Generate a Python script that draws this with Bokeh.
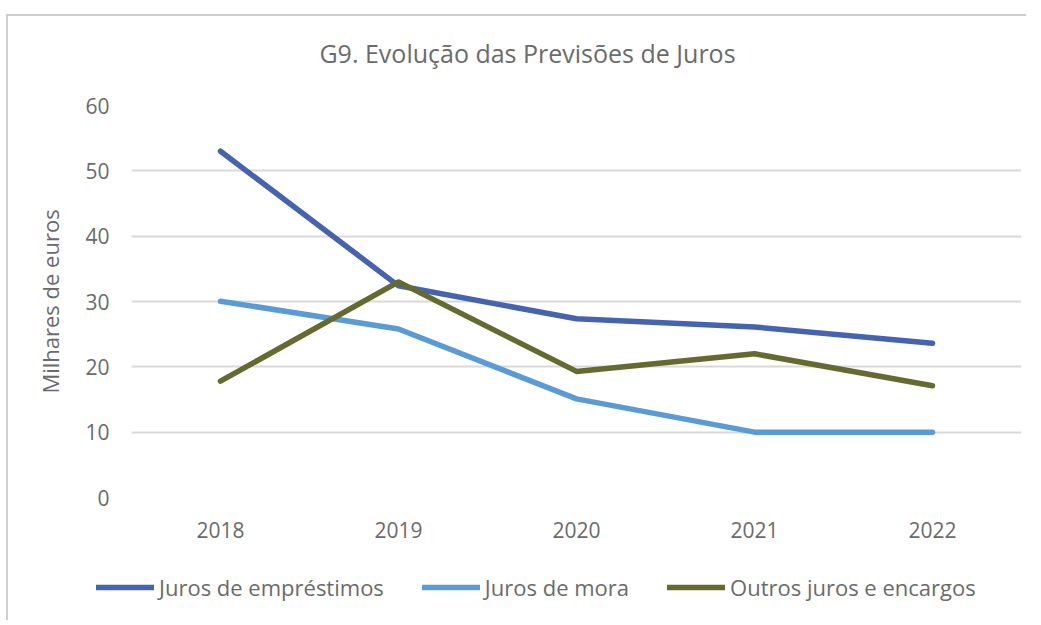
from bokeh.plotting import figure
from bokeh.models import FactorRange, Range1d, Legend, LegendItem, ColumnDataSource, Label
from bokeh.embed import file_html
from bokeh.resources import INLINE

years = ["2018", "2019", "2020", "2021", "2022"]
juros_emprestimos = [53.0, 32.4, 27.35, 26.1, 23.6]
juros_mora = [30.05, 25.8, 15.1, 10.0, 10.0]
outros_juros = [17.8, 33.0, 19.3, 22.0, 17.1]
y_ticks = [0, 10, 20, 30, 40, 50, 60]

title_text = "G9. Evolução das Previsões de Juros"
series_names = ["Juros de empréstimos", "Juros de mora", "Outros juros e encargos"]
series_colors = ["#4663AF", "#5B9BD5", "#646A30"]

FONT = "Open Sans"
TXT = "#6b6b6b"
W = 1020
BORDER = "2px solid #cfcfcf"


def blank(height):
    f = figure(width=W, height=height, x_range=Range1d(0, W), y_range=Range1d(0, height),
               output_backend="svg", toolbar_location=None,
               x_axis_location=None, y_axis_location=None,
               min_border=0, min_border_left=0, min_border_right=0,
               min_border_top=0, min_border_bottom=0)
    f.grid.visible = False
    f.outline_line_color = None
    return f


# header with the title
head = blank(71)
head.add_layout(Label(x=519, y=35, text=title_text, text_font=FONT, text_font_size="25px",
                      text_color=TXT, text_align="center", text_baseline="middle"))
head.styles = {"border-top": BORDER, "border-left": BORDER,
               "margin-top": "14px", "margin-left": "6px"}

# main chart
p = figure(width=W, height=465, x_range=FactorRange(*years, range_padding=0),
           y_range=Range1d(0, 60), output_backend="svg", toolbar_location=None,
           min_border_left=123, min_border_right=7, min_border_top=20, min_border_bottom=53)
p.styles = {"border-left": BORDER, "margin-left": "6px"}
p.outline_line_color = None
p.xgrid.grid_line_color = None
p.ygrid.grid_line_color = "#d9d9d9"
p.ygrid.grid_line_width = 2
p.yaxis.ticker = y_ticks

for ax in (p.xaxis[0], p.yaxis[0]):
    ax.axis_line_color = None
    ax.major_tick_line_color = None
    ax.minor_tick_line_color = None
    ax.major_label_text_font = FONT
    ax.major_label_text_font_size = "21px"
    ax.major_label_text_color = TXT
p.yaxis.major_label_standoff = 16
p.xaxis.major_label_standoff = 18

p.yaxis.axis_label = "Milhares de euros"
p.yaxis.axis_label_text_font = FONT
p.yaxis.axis_label_text_font_size = "22px"
p.yaxis.axis_label_text_font_style = "normal"
p.yaxis.axis_label_text_color = TXT
p.yaxis.axis_label_standoff = 17

src = ColumnDataSource(dict(year=years, a=juros_emprestimos, b=juros_mora, c=outros_juros))
for col, color in zip(["a", "b", "c"], series_colors):
    p.line("year", col, source=src, line_color=color, line_width=5.5,
           line_cap="round", line_join="round")

# legend strip (legend proxies lie outside the visible range)
leg = blank(70)
leg.styles = {"border-left": BORDER, "margin-left": "6px"}
items = []
for name, color in zip(series_names, series_colors):
    r = leg.line(x=[-50, -40], y=[-50, -50], line_color=color, line_width=5.5, line_cap="round")
    items.append(LegendItem(label=name, renderers=[r]))
legend = Legend(items=items, orientation="horizontal", location=(88, 18),
                glyph_width=58, glyph_height=20, label_standoff=5, spacing=38,
                padding=0, margin=0, border_line_color=None, background_fill_alpha=0,
                label_text_font=FONT, label_text_font_size="22px", label_text_color=TXT)
leg.add_layout(legend)

open("out.html", "w").write(file_html([head, p, leg], INLINE))
